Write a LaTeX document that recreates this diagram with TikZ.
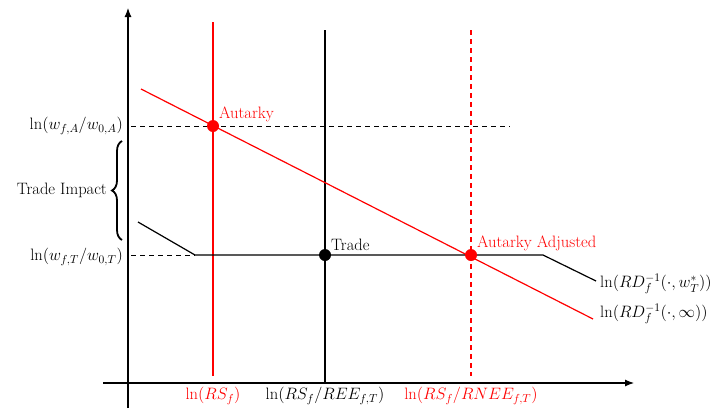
\RequirePackage{fix-cm}
\documentclass[tikz,border=0pt]{standalone}
\usepackage{fontspec}
\usetikzlibrary{arrows.meta,decorations.pathreplacing}
\begin{document}
\begin{tikzpicture}[x=1pt,y=-1pt,
  axis/.style={line width=1.1pt,-{Latex[length=9pt,width=7pt]}},
  curve/.style={line width=1.2pt},
  redl/.style={curve,red},
  guide/.style={line width=0.9pt,dashed,dash pattern=on 5pt off 4pt},
  dotn/.style={circle,inner sep=0pt,minimum size=12pt},
  lbl/.style={font=\fontsize{16.5}{19}\selectfont,inner sep=1pt}]
\useasboundingbox (0,0) rectangle (714,410);
% axes
\coordinate (yb) at (128,408);
\coordinate (yt) at (128,8);
\coordinate (xl) at (103,383);
\coordinate (xr) at (634,383);
\draw[axis] (yb) -- (yt);
\draw[axis] (xl) -- (xr);
% vertical lines
\coordinate (rsT) at (213,22);
\coordinate (rsB) at (213,376);
\coordinate (reeT) at (325,30);
\coordinate (reeB) at (325,383);
\coordinate (rneeT) at (471,30);
\coordinate (rneeB) at (471,376);
\draw[redl] (rsT) -- (rsB);
\draw[curve] (reeT) -- (reeB);
\draw[redl,dashed,dash pattern=on 5pt off 4pt] (rneeT) -- (rneeB);
% dashed guides
\coordinate (gA1) at (131,126);
\coordinate (gA2) at (510,126);
\coordinate (gT1) at (131,255);
\coordinate (k1) at (195,255);
\draw[guide] (gA1) -- (gA2);
\draw[guide] (gT1) -- (k1);
% curves
\coordinate (r1) at (141,89);
\coordinate (r2) at (593,319);
\draw[redl] (r1) -- (r2);
\coordinate (b0) at (138,222);
\coordinate (k2) at (543,255);
\coordinate (b3) at (596,281);
\draw[curve,line join=round] (b0) -- (k1) -- (k2) -- (b3);
% dots
\node[dotn,fill=red] (aut) at (213,126) {};
\node[dotn,fill=black] (trd) at (325,255) {};
\node[dotn,fill=red] (adj) at (471,255) {};
\node[lbl,red,anchor=south west] (autl) at (218,123) {Autarky};
\node[lbl,anchor=south west] (trdl) at (330,252) {Trade};
\node[lbl,red,anchor=south west] (adjl) at (476,252) {Autarky Adjusted};
% y labels
\node[lbl,anchor=east] (yA) at (124,126) {$\ln(w_{f,A}/w_{0,A})$};
\node[lbl,anchor=east] (yT) at (124,257) {$\ln(w_{f,T}/w_{0,T})$};
\coordinate (brB) at (122,240);
\coordinate (brT) at (122,141);
\draw[line width=1.8pt,decorate,decoration={brace,amplitude=10pt}] (brB) -- (brT);
\node[lbl,anchor=east] (ti) at (108,190) {Trade Impact};
% x labels
\node[lbl,red,anchor=north] (xRS) at (213,386) {$\ln(RS_f)$};
\node[lbl,anchor=north] (xREE) at (325,386) {$\ln(RS_f/REE_{f,T})$};
\node[lbl,red,anchor=north] (xRNEE) at (471,386) {$\ln(RS_f/RNEE_{f,T})$};
% right labels
\node[lbl,anchor=west] (l1) at (599,284) {$\ln(RD_f^{-1}(\cdot,w_T^{*}))$};
\node[lbl,anchor=west] (l2) at (599,314) {$\ln(RD_f^{-1}(\cdot,\infty))$};
\end{tikzpicture}
\end{document}
